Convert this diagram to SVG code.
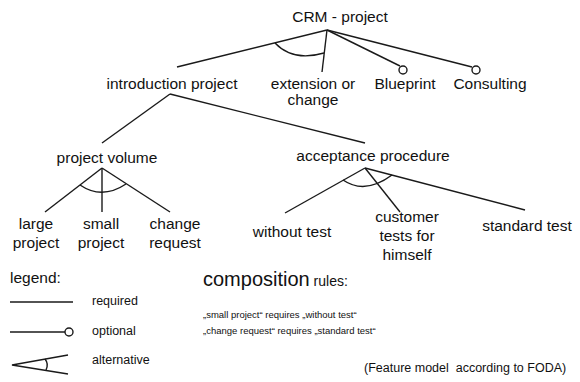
<svg xmlns="http://www.w3.org/2000/svg" width="580" height="382" viewBox="0 0 580 382">
<style>
text{font-family:"Liberation Sans",Arial,sans-serif;fill:#111}
.n{font-size:15.5px;text-anchor:middle}
.lg{font-size:12.5px}
.r{font-size:9.5px}
.e{stroke:#1a1a1a;stroke-width:1.4;fill:none}
.o{stroke:#1a1a1a;stroke-width:1.4;fill:#fff}
</style>
<rect width="580" height="382" fill="#fff"/>
<g id="connectors">
<line class="e" x1="327" y1="30" x2="177" y2="67"/>
<line class="e" x1="327" y1="30" x2="322" y2="72"/>
<line class="e" x1="327" y1="30" x2="400" y2="66"/>
<line class="e" x1="327" y1="30" x2="472" y2="67"/>
<circle class="o" cx="403" cy="70" r="4"/>
<circle class="o" cx="476" cy="70" r="4"/>
<path class="e" d="M275,43 Q293,62 324,53"/>
<line class="e" x1="170" y1="94" x2="102" y2="143"/>
<line class="e" x1="170" y1="94" x2="365" y2="143"/>
<line class="e" x1="102" y1="168" x2="45" y2="212"/>
<line class="e" x1="102" y1="168" x2="102" y2="212"/>
<line class="e" x1="102" y1="168" x2="170" y2="212"/>
<path class="e" d="M80,185 Q102,200 126,184"/>
<line class="e" x1="365" y1="168" x2="285" y2="213"/>
<line class="e" x1="365" y1="168" x2="400" y2="212"/>
<line class="e" x1="365" y1="168" x2="525" y2="210"/>
<path class="e" d="M343,180 Q365,195 392,175"/>
</g>
<g id="crm-project"><text class="n" x="340" y="22">CRM - project</text></g>
<g id="introduction-project"><text class="n" x="172" y="89">introduction project</text></g>
<g id="extension-or-change"><text class="n" x="313" y="89">extension or</text><text class="n" x="313" y="105">change</text></g>
<g id="blueprint"><text class="n" x="405" y="89">Blueprint</text></g>
<g id="consulting"><text class="n" x="490" y="89">Consulting</text></g>
<g id="project-volume"><text class="n" x="107" y="163">project volume</text></g>
<g id="acceptance-procedure"><text class="n" x="373" y="161">acceptance procedure</text></g>
<g id="large-project"><text class="n" x="36" y="229">large</text><text class="n" x="36" y="248">project</text></g>
<g id="small-project"><text class="n" x="101" y="229">small</text><text class="n" x="101" y="248">project</text></g>
<g id="change-request"><text class="n" x="175" y="229">change</text><text class="n" x="175" y="248">request</text></g>
<g id="without-test"><text class="n" x="292" y="237">without test</text></g>
<g id="customer-tests"><text class="n" x="407" y="222">customer</text><text class="n" x="407" y="241">tests for</text><text class="n" x="407" y="260">himself</text></g>
<g id="standard-test"><text class="n" x="527" y="231">standard test</text></g>
<g id="legend">
<text x="10" y="283" style="font-size:15.5px">legend:</text>
<line class="e" x1="10" y1="302" x2="73" y2="302"/>
<text class="lg" x="92" y="305">required</text>
<line class="e" x1="10" y1="332" x2="65" y2="332"/>
<circle class="o" cx="69" cy="332" r="4"/>
<text class="lg" x="92" y="335">optional</text>
<path class="e" d="M68,355 L12,365 L68,374"/>
<path class="e" d="M45,359 Q49,364 46,370"/>
<text class="lg" x="92" y="364">alternative</text>
</g>
<g id="rules">
<text x="203" y="286"><tspan style="font-size:20px">composition</tspan><tspan style="font-size:14px"> rules:</tspan></text>
<text class="r" x="203" y="318">„small project“ requires „without test“</text>
<text class="r" x="203" y="334">„change request“ requires „standard test“</text>
<text x="364" y="372" style="font-size:12.5px" xml:space="preserve">(Feature model  according to FODA)</text>
</g>
</svg>
